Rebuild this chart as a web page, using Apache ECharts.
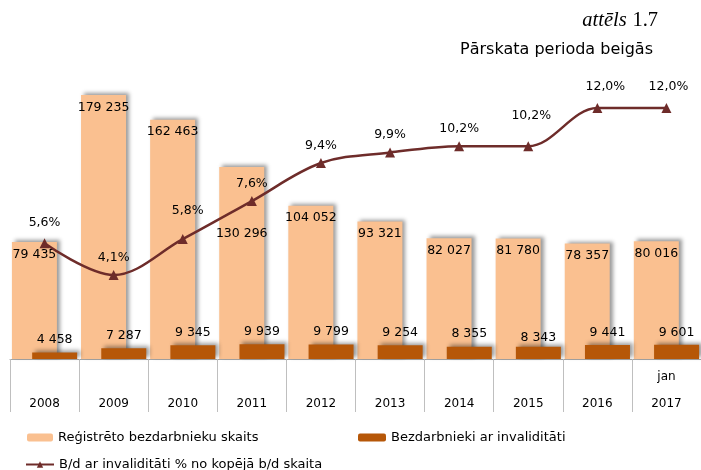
<!DOCTYPE html>
<html>
<head>
<meta charset="utf-8">
<script src="https://cdn.jsdelivr.net/npm/echarts@6/dist/echarts.min.js"></script>
<style>
  html, body { margin: 0; padding: 0; background: #fff; }
  #chart { width: 701px; height: 470px; }
</style>
</head>
<body>
<div id="chart"></div>
<script>
const categories = ["2008", "2009", "2010", "2011", "2012", "2013", "2014", "2015", "2016", "jan\n2017"];
const registered = [79435, 179235, 162463, 130296, 104052, 93321, 82027, 81780, 78357, 80016];
const disabled = [4458, 7287, 9345, 9939, 9799, 9254, 8355, 8343, 9441, 9601];
const sharePct = [5.6, 4.1, 5.8, 7.6, 9.4, 9.9, 10.2, 10.2, 12.0, 12.0];

const names = [
  "Reģistrēto bezdarbnieku skaits",
  "Bezdarbnieki ar invaliditāti",
  "B/d ar invaliditāti % no kopējā b/d skaita",
];

// label nudges (original had some labels moved by hand)
const regShift = { 3: [0, 54] };
const disShift = { 7: [0, 4] };
const pctShift = { 0: [0, -3], 2: [5, -11], 7: [3, -13], 8: [8, -4], 9: [2, -4] };

const fmtNum = (v) => String(v).replace(/\B(?=(\d{3})+(?!\d))/g, " ");
const fmtPct = (v) => v.toFixed(1).replace(".", ",") + "%";

const withShift = (arr, shifts) =>
  arr.map((v, i) => (shifts[i] ? { value: v, label: { offset: shifts[i] } } : v));

const font = "DejaVu Sans";
const shadow = {
  shadowColor: "rgba(0,0,0,0.4)",
  shadowBlur: 4,
  shadowOffsetX: 3,
  shadowOffsetY: -2,
};
const noShadow = { shadowBlur: 0, shadowOffsetX: 0, shadowOffsetY: 0 };
const legendText = { fontFamily: font, fontSize: 13, color: "#000" };

const chart = echarts.init(document.getElementById("chart"));
chart.setOption({
  animation: false,
  textStyle: { fontFamily: font },
  title: [
    {
      text: "{i|attēls} {n|1.7}",
      right: 38,
      top: 5,
      textStyle: {
        fontWeight: "normal",
        rich: {
          i: { fontFamily: "Liberation Serif", fontStyle: "italic", fontWeight: "normal", fontSize: 20.5, color: "#000" },
          n: { fontFamily: "Liberation Serif", fontWeight: "normal", fontSize: 20.5, color: "#000" },
        },
      },
    },
    {
      text: "Pārskata perioda beigās",
      right: 43,
      top: 37,
      textStyle: { fontFamily: font, fontSize: 16, fontWeight: "normal", color: "#000" },
    },
  ],
  legend: [
    {
      data: [names[0]],
      left: 27,
      top: 431,
      padding: 0,
      itemWidth: 26,
      itemHeight: 8,
      itemStyle: noShadow,
      textStyle: legendText,
    },
    {
      data: [names[1]],
      left: 358,
      top: 431,
      padding: 0,
      itemWidth: 28,
      itemHeight: 8,
      itemStyle: noShadow,
      textStyle: legendText,
    },
    {
      data: [names[2]],
      left: 25,
      top: 458,
      padding: 0,
      itemWidth: 28,
      itemHeight: 8,
      textStyle: legendText,
    },
  ],
  grid: { left: 10, width: 702, top: 32, bottom: 111 },
  xAxis: {
    type: "category",
    data: categories,
    boundaryGap: true,
    axisLine: { lineStyle: { color: "#a6a6a6", width: 1 } },
    axisTick: { show: true, interval: 0, length: 53, lineStyle: { color: "#bfbfbf" } },
    axisLabel: {
      interval: 0,
      margin: 4,
      lineHeight: 27,
      fontSize: 12,
      color: "#000",
      fontFamily: font,
      formatter: (v) => (v.indexOf("\n") < 0 ? "\n" + v : v),
    },
  },
  yAxis: [
    { type: "value", min: 0, max: 222000, show: false, splitLine: { show: false } },
    { type: "value", min: 0.128, max: 15.6, show: false, splitLine: { show: false } },
  ],
  series: [
    {
      name: names[0],
      type: "bar",
      data: withShift(registered, regShift),
      barWidth: 45,
      barGap: "-55%",
      itemStyle: Object.assign({ color: "#FAC090" }, shadow),
      label: {
        show: true,
        position: "insideTop",
        distance: 6,
        fontSize: 12.5,
        color: "#000",
        formatter: (p) => fmtNum(p.value),
      },
    },
    {
      name: names[1],
      type: "bar",
      data: withShift(disabled, disShift),
      barWidth: 45,
      barGap: "-55%",
      itemStyle: Object.assign({ color: "#B65708" }, shadow),
      label: {
        show: true,
        position: "top",
        distance: 6,
        fontSize: 12.5,
        color: "#000",
        formatter: (p) => fmtNum(p.value),
      },
    },
    {
      name: names[2],
      type: "line",
      yAxisIndex: 1,
      data: withShift(sharePct, pctShift),
      smooth: 0.35,
      symbol: "triangle",
      symbolSize: 10,
      z: 5,
      itemStyle: { color: "#6E2C2A" },
      lineStyle: { color: "#6E2C2A", width: 2.5 },
      label: {
        show: true,
        position: "top",
        distance: 6,
        fontSize: 12.5,
        color: "#000",
        formatter: (p) => fmtPct(p.value),
      },
    },
  ],
});
</script>
</body>
</html>
